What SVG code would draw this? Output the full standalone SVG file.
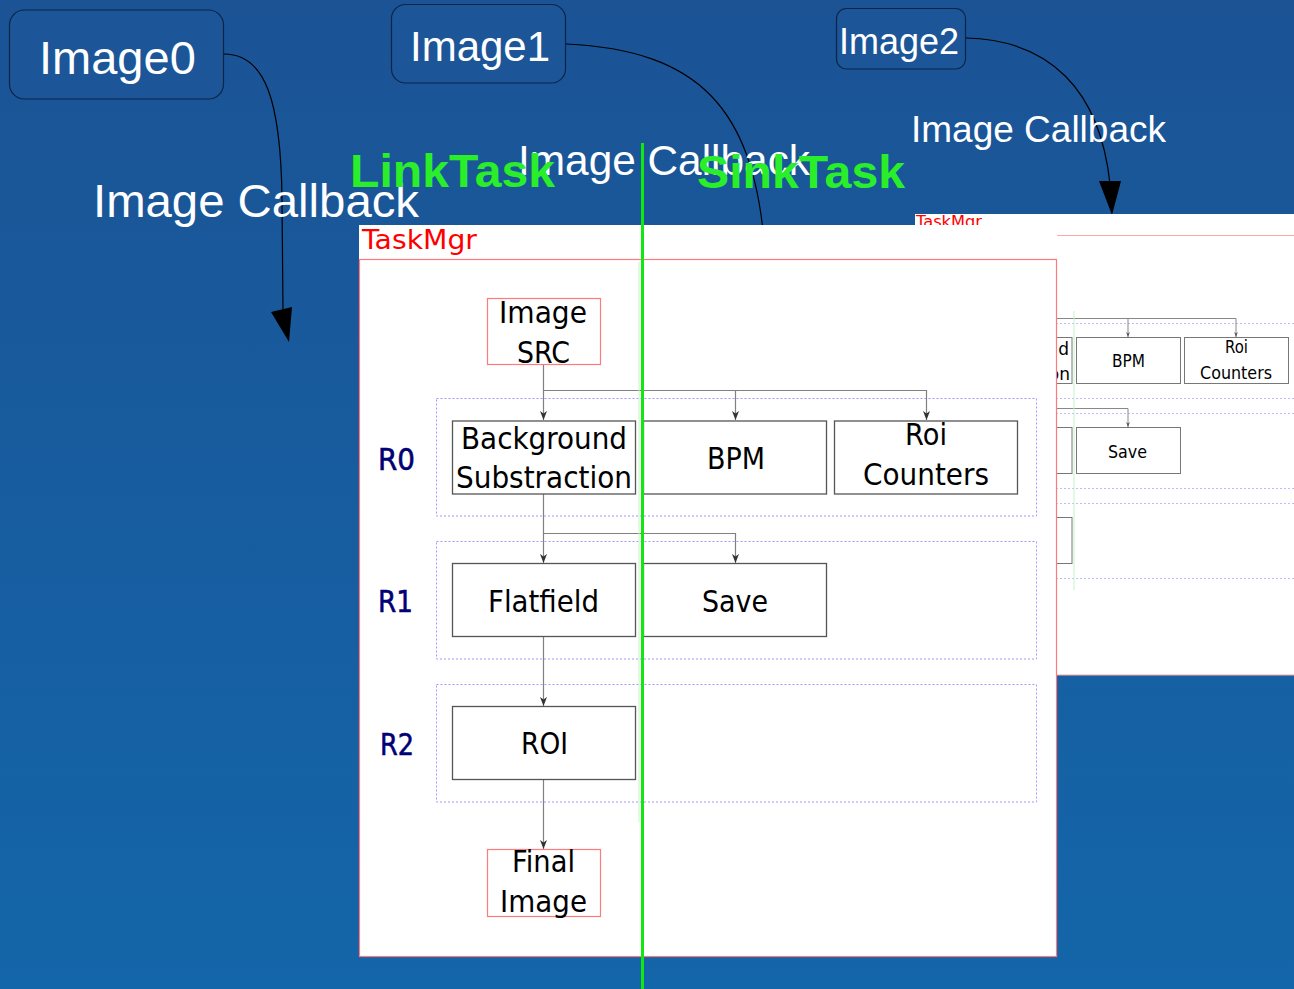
<svg xmlns="http://www.w3.org/2000/svg" width="1294" height="989" viewBox="0 0 1294 989">
<defs>
<linearGradient id="bg" x1="0" y1="0" x2="0" y2="1">
<stop offset="0" stop-color="#1b5395"/>
<stop offset="1" stop-color="#1366a9"/>
</linearGradient>
<marker id="arr" markerUnits="userSpaceOnUse" viewBox="-1 -5 11 10" refX="9" refY="0" markerWidth="11" markerHeight="10" orient="auto">
<path d="M0,-3.5 L9,0 L0,3.5 L2.5,0 z" fill="#333"/>
</marker>
<marker id="arrs" markerUnits="userSpaceOnUse" viewBox="-1 -5 11 10" refX="9" refY="0" markerWidth="6" markerHeight="5.5" orient="auto">
<path d="M0,-3.5 L9,0 L0,3.5 L2.5,0 z" fill="#555"/>
</marker>
</defs>
<style>
.ibox{fill:#1c5698;stroke:#0c2547;stroke-width:1.2}
.wt{font-family:"Liberation Sans",Arial,sans-serif;fill:#ffffff}
.gt{font-family:"Liberation Sans",Arial,sans-serif;font-weight:bold;fill:#2aee2a}
.curve{fill:none;stroke:#000000;stroke-width:1.2}
.dv{font-family:"DejaVu Sans",Verdana,sans-serif;fill:#000000}
.box{fill:#ffffff;stroke:#555555;stroke-width:1.3}
.sbox{fill:#ffffff;stroke:#777777;stroke-width:1}
.pbox{fill:#ffffff;stroke:#ff7a7a;stroke-width:1.2}
.grp{fill:none;stroke:#9a9aff;stroke-width:1;stroke-dasharray:2,2}
.con{fill:none;stroke:#808080;stroke-width:1.2}
.scon{fill:none;stroke:#888888;stroke-width:1}
.rl{font-family:"DejaVu Sans",Verdana,sans-serif;fill:#000080;stroke:#000060;stroke-width:0.6}
.red{font-family:"DejaVu Sans",Verdana,sans-serif;fill:#ff0000}
</style>
<rect x="0" y="0" width="1294" height="989" fill="url(#bg)"/>

<g id="image0">
<rect class="ibox" x="9.5" y="10" width="214" height="89" rx="15"/>
<text class="wt" x="39" y="74" font-size="47">Image0</text>
</g>
<g id="image1">
<rect class="ibox" x="391.5" y="4.5" width="174" height="78.5" rx="14"/>
<text class="wt" x="410" y="61" font-size="42">Image1</text>
</g>
<g id="image2">
<rect class="ibox" x="836.5" y="8.5" width="129" height="60.5" rx="10"/>
<text class="wt" x="839" y="54" font-size="36">Image2</text>
</g>

<g id="callbacks">
<path class="curve" d="M224,54 C265,54 281,100 282,200 L283,312"/>
<polygon points="271,312 292,307 289,342" fill="#000"/>
<path class="curve" d="M566,44 C700,50 752,110 764,240"/>
<path class="curve" d="M966,38 C1050,40 1100,90 1110,184"/>
<polygon points="1099,181 1121,181 1112,215" fill="#000"/>
</g>

<g id="taskmgr-back">
<rect x="915" y="214" width="390" height="461" fill="#ffffff"/>
<text class="red" x="916" y="227" font-size="16" textLength="66" lengthAdjust="spacingAndGlyphs">TaskMgr</text>
<line x1="915" y1="235.5" x2="1294" y2="235.5" stroke="#ffa8a8" stroke-width="1.2"/>
<line x1="915" y1="675" x2="1294" y2="675" stroke="#ffa8a8" stroke-width="1.2"/>
<g stroke="#bcbcff" stroke-width="1" stroke-dasharray="2,2">
<line x1="1000" y1="323.5" x2="1294" y2="323.5"/>
<line x1="1000" y1="398.5" x2="1294" y2="398.5"/>
<line x1="1000" y1="413.5" x2="1294" y2="413.5"/>
<line x1="1000" y1="488.5" x2="1294" y2="488.5"/>
<line x1="1000" y1="503.5" x2="1294" y2="503.5"/>
<line x1="1000" y1="578.5" x2="1294" y2="578.5"/>
</g>
<path class="scon" d="M1000,318.5 H1236 V337" marker-end="url(#arrs)"/>
<path class="scon" d="M1128,318.5 V337" marker-end="url(#arrs)"/>
<path class="scon" d="M1000,408.5 H1128 V427" marker-end="url(#arrs)"/>
<rect class="sbox" x="990" y="337.5" width="82" height="46"/>
<text class="dv" x="1069" y="355" font-size="17" text-anchor="end">d</text>
<text class="dv" x="1070" y="380" font-size="17" text-anchor="end">on</text>
<rect class="sbox" x="1076.5" y="337.5" width="104" height="46"/>
<text class="dv" x="1112" y="367" font-size="17" textLength="33" lengthAdjust="spacingAndGlyphs">BPM</text>
<rect class="sbox" x="1184.5" y="337.5" width="104" height="46"/>
<text class="dv" x="1225" y="353" font-size="17" textLength="23" lengthAdjust="spacingAndGlyphs">Roi</text>
<text class="dv" x="1200" y="379" font-size="17" textLength="72" lengthAdjust="spacingAndGlyphs">Counters</text>
<rect class="sbox" x="990" y="427.5" width="82" height="46"/>
<rect class="sbox" x="1076.5" y="427.5" width="104" height="46"/>
<text class="dv" x="1108" y="458" font-size="17" textLength="39" lengthAdjust="spacingAndGlyphs">Save</text>
<rect class="sbox" x="990" y="517.5" width="82" height="46"/>
<line x1="1074" y1="311" x2="1074" y2="590" stroke="#c6f2c6" stroke-width="1"/>
</g>

<g id="taskmgr">
<rect x="359" y="225" width="698" height="732" fill="#ffffff"/>
<text class="red" x="362" y="249" font-size="27" textLength="115" lengthAdjust="spacingAndGlyphs">TaskMgr</text>
<rect x="359.5" y="259.5" width="697" height="697" fill="none" stroke="#ff7a7a" stroke-width="1.2"/>
</g>

<g id="R0">
<rect class="grp" x="436.5" y="398.5" width="600" height="117.5"/>
<text class="rl" x="378" y="470" font-size="30" textLength="37" lengthAdjust="spacingAndGlyphs">R0</text>
</g>
<g id="R1">
<rect class="grp" x="436.5" y="541.5" width="600" height="117.5"/>
<text class="rl" x="378" y="612" font-size="30" textLength="35" lengthAdjust="spacingAndGlyphs">R1</text>
</g>
<g id="R2">
<rect class="grp" x="436.5" y="684.5" width="600" height="117.5"/>
<text class="rl" x="380" y="755" font-size="30" textLength="34" lengthAdjust="spacingAndGlyphs">R2</text>
</g>

<g id="connectors">
<path class="con" d="M543.5,365 V420" marker-end="url(#arr)"/>
<path class="con" d="M543.5,390.5 H926.5 V420" marker-end="url(#arr)"/>
<path class="con" d="M735.5,390.5 V420" marker-end="url(#arr)"/>
<path class="con" d="M543.5,494 V563" marker-end="url(#arr)"/>
<path class="con" d="M543.5,533.5 H735.5 V563" marker-end="url(#arr)"/>
<path class="con" d="M543.5,637 V706" marker-end="url(#arr)"/>
<path class="con" d="M543.5,780 V849" marker-end="url(#arr)"/>
</g>

<g id="image-src">
<rect class="pbox" x="487.5" y="298.5" width="113" height="66"/>
<text class="dv" x="499" y="323" font-size="30" textLength="88" lengthAdjust="spacingAndGlyphs">Image</text>
<text class="dv" x="517" y="363" font-size="30" textLength="53" lengthAdjust="spacingAndGlyphs">SRC</text>
</g>
<g id="background-substraction">
<rect class="box" x="452.5" y="421" width="183" height="73"/>
<text class="dv" x="461" y="449" font-size="30" textLength="166" lengthAdjust="spacingAndGlyphs">Background</text>
<text class="dv" x="456" y="488" font-size="30" textLength="176" lengthAdjust="spacingAndGlyphs">Substraction</text>
</g>
<g id="bpm">
<rect class="box" x="643.5" y="421" width="183" height="73"/>
<text class="dv" x="707" y="469" font-size="30" textLength="58" lengthAdjust="spacingAndGlyphs">BPM</text>
</g>
<g id="roi-counters">
<rect class="box" x="834.5" y="421" width="183" height="73"/>
<text class="dv" x="905" y="445" font-size="30" textLength="42" lengthAdjust="spacingAndGlyphs">Roi</text>
<text class="dv" x="863" y="485" font-size="30" textLength="126" lengthAdjust="spacingAndGlyphs">Counters</text>
</g>
<g id="flatfield">
<rect class="box" x="452.5" y="563.5" width="183" height="73"/>
<text class="dv" x="488" y="612" font-size="30" textLength="111" lengthAdjust="spacingAndGlyphs">Flatfield</text>
</g>
<g id="save">
<rect class="box" x="643.5" y="563.5" width="183" height="73"/>
<text class="dv" x="702" y="612" font-size="30" textLength="66" lengthAdjust="spacingAndGlyphs">Save</text>
</g>
<g id="roi">
<rect class="box" x="452.5" y="706.5" width="183" height="73"/>
<text class="dv" x="521" y="754" font-size="30" textLength="47" lengthAdjust="spacingAndGlyphs">ROI</text>
</g>
<g id="final-image">
<rect class="pbox" x="487.5" y="849.5" width="113" height="67"/>
<text class="dv" x="512" y="872" font-size="30" textLength="63" lengthAdjust="spacingAndGlyphs">Final</text>
<text class="dv" x="500" y="912" font-size="30" textLength="87" lengthAdjust="spacingAndGlyphs">Image</text>
</g>

<line x1="639" y1="262" x2="639" y2="822" stroke="#c6f2c6" stroke-width="1"/>

<g id="labels">
<text class="wt" x="93" y="217" font-size="47" textLength="326" lengthAdjust="spacingAndGlyphs">Image Callback</text>
<text class="wt" x="518" y="175" font-size="42" textLength="292" lengthAdjust="spacingAndGlyphs">Image Callback</text>
<text class="wt" x="911" y="142" font-size="37" textLength="255" lengthAdjust="spacingAndGlyphs">Image Callback</text>
<text class="gt" x="350" y="187" font-size="46" textLength="205" lengthAdjust="spacingAndGlyphs">LinkTask</text>
<text class="gt" x="697" y="188" font-size="46" textLength="208" lengthAdjust="spacingAndGlyphs">SinkTask</text>
</g>

<line id="split" x1="642.5" y1="143" x2="642.5" y2="989" stroke="#11e811" stroke-width="3"/>
</svg>
